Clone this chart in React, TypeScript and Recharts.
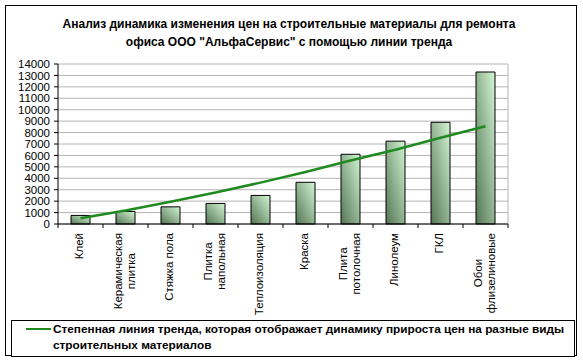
import React from 'react';
import { ComposedChart, Bar, Line, XAxis, YAxis, CartesianGrid } from 'recharts';

const categories = [
  'Клей',
  'Керамическая\nплитка',
  'Стяжка пола',
  'Плитка\nнапольная',
  'Теплоизоляция',
  'Краска',
  'Плита\nпотолочная',
  'Линолеум',
  'ГКЛ',
  'Обои\nфлизелиновые',
];
const prices = [750, 1100, 1500, 1800, 2500, 3650, 6100, 7250, 8900, 13300];
const trend = [500, 1180, 1940, 2760, 3620, 4550, 5550, 6500, 7550, 8550];
const yTicks = [0, 1000, 2000, 3000, 4000, 5000, 6000, 7000, 8000, 9000, 10000, 11000, 12000, 13000, 14000];

const titleLines = [
  'Анализ динамика изменения цен на строительные материалы для ремонта',
  'офиса ООО "АльфаСервис" с помощью линии тренда',
];
const legendText =
  'Степенная линия тренда, которая отображает динамику прироста цен на разные виды строительных материалов';

const data = categories.map((c, i) => ({ name: c, price: prices[i], trend: trend[i] }));

const FONT = '"Liberation Sans", Arial, sans-serif';
const FS = 11.5;

let ctx: CanvasRenderingContext2D | null = null;
function measure(t: string): number {
  if (!ctx) ctx = document.createElement('canvas').getContext('2d');
  if (!ctx) return t.length * 6.2;
  ctx.font = `${FS}px "Liberation Sans"`;
  return ctx.measureText(t).width;
}

const XTick = (props: any) => {
  const { x, y, payload, index } = props;
  const off = payload && payload.offset ? payload.offset : 22.5;
  const lines = String(payload.value).split('\n');
  const widths = lines.map(measure);
  const maxW = Math.max(...widths);
  const lh = 13;
  const n = lines.length;
  return (
    <g>
      <line x1={x - off} y1={y} x2={x - off} y2={y + 4} stroke="#000" />
      {index === categories.length - 1 && (
        <line x1={x + off} y1={y} x2={x + off} y2={y + 4} stroke="#000" />
      )}
      {lines.map((l, i) => {
        const cx = x + (i - (n - 1) / 2) * lh;
        const bx = cx + FS * 0.36 - 1.5;
        const ty = y + 9 + (maxW - widths[i]) / 2;
        return (
          <text
            key={i}
            x={bx}
            y={ty}
            textAnchor="end"
            transform={`rotate(-90, ${bx}, ${ty})`}
            fontSize={FS}
            fontFamily={FONT}
            fill="#000"
          >
            {l}
          </text>
        );
      })}
    </g>
  );
};

export default function App() {
  return (
    <div style={{ position: 'absolute', left: 0, top: 0, width: 583, height: 361, background: '#fff' }}>
      <ComposedChart
        width={583}
        height={361}
        data={data}
        margin={{ top: 64, right: 75, left: 8, bottom: 40 }}
      >
        <defs>
          <linearGradient id="barGrad" x1="0" y1="1" x2="1" y2="0">
            <stop offset="0%" stopColor="#557555" />
            <stop offset="100%" stopColor="#d2f5d2" />
          </linearGradient>
        </defs>
        <CartesianGrid
          stroke="#b4b4b4"
          horizontal={true}
          vertical={true}
          verticalCoordinatesGenerator={(p: any) => [p.offset.left + p.offset.width]}
        />
        <XAxis
          dataKey="name"
          interval={0}
          height={97}
          stroke="#000"
          tickLine={false}
          tickSize={0}
          tickMargin={0}
          tick={<XTick />}
        />
        <YAxis
          domain={[0, 14000]}
          ticks={yTicks}
          interval={0}
          width={50}
          stroke="#000"
          tickSize={4}
          tickMargin={4}
          tick={{ fill: '#000', fontSize: FS, fontFamily: FONT }}
        />
        <Bar
          dataKey="price"
          fill="url(#barGrad)"
          stroke="#000"
          strokeWidth={1}
          barSize={19}
          isAnimationActive={false}
        />
        <Line
          dataKey="trend"
          type="linear"
          stroke="#1f8a1f"
          strokeWidth={2.5}
          dot={false}
          isAnimationActive={false}
        />
      </ComposedChart>
      <div
        style={{
          position: 'absolute',
          left: 5,
          top: 5,
          width: 572,
          height: 351,
          border: '1px solid #000',
          boxSizing: 'border-box',
          pointerEvents: 'none',
        }}
      />
      <div
        style={{
          position: 'absolute',
          left: 0,
          top: 15,
          width: 578,
          textAlign: 'center',
          fontFamily: FONT,
          fontWeight: 'bold',
          fontSize: 12,
          lineHeight: '18px',
          color: '#000',
        }}
      >
        {titleLines.map((t, i) => (
          <div key={i}>{t}</div>
        ))}
      </div>
      <div
        style={{
          position: 'absolute',
          left: 11,
          top: 320,
          width: 564,
          height: 37,
          border: '1px solid #000',
          boxSizing: 'border-box',
          background: '#fff',
        }}
      >
        <div
          style={{
            position: 'absolute',
            left: 14,
            top: 7,
            width: 25,
            height: 2,
            background: '#1f8a1f',
          }}
        />
        <div
          style={{
            position: 'absolute',
            left: 41,
            top: 0,
            width: 520,
            fontFamily: FONT,
            fontWeight: 'bold',
            fontSize: 11.8,
            lineHeight: '16px',
            color: '#000',
          }}
        >
          {legendText}
        </div>
      </div>
    </div>
  );
}
